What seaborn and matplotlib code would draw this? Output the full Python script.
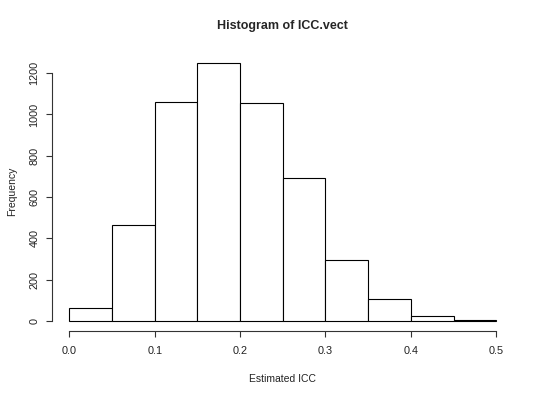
import numpy as np
import seaborn as sns
import matplotlib
matplotlib.use("Agg")
import matplotlib.pyplot as plt

# bin edges and counts
bin_edges = [0.0, 0.05, 0.1, 0.15, 0.2, 0.25, 0.3, 0.35, 0.4, 0.45, 0.5]
counts = [62, 464, 1060, 1251, 1057, 690, 295, 106, 23, 3]
x_ticks = [0.0, 0.1, 0.2, 0.3, 0.4, 0.5]
y_ticks = [0, 200, 400, 600, 800, 1000, 1200]

sns.set_style("white")
plt.rcParams['font.family'] = ['Liberation Sans', 'DejaVu Sans']

centers = [(a + b) / 2 for a, b in zip(bin_edges[:-1], bin_edges[1:])]

fig = plt.figure(figsize=(5.4, 3.97), dpi=100)
ax = fig.add_axes([0.0967, 0.1655, 0.854, 0.7028])

sns.histplot(x=centers, weights=counts, bins=bin_edges, ax=ax,
             color="white", edgecolor="black", linewidth=0.8, alpha=1)

ax.set_xlim(-0.02, 0.52)
ax.set_ylim(-0.04 * max(counts), 1.04 * max(counts))

ax.set_xticks(x_ticks)
ax.set_xticklabels(["0.0", "0.1", "0.2", "0.3", "0.4", "0.5"])
ax.set_yticks(y_ticks)
ax.set_yticklabels([str(v) for v in y_ticks], rotation=90, va="center")

for s in ["top", "right"]:
    ax.spines[s].set_visible(False)
ax.spines["left"].set_bounds(0, 1200)
ax.spines["bottom"].set_bounds(0, 0.5)
for s in ["left", "bottom"]:
    ax.spines[s].set_color("#333333")
    ax.spines[s].set_linewidth(0.8)

ax.tick_params(direction="out", length=4.3, width=0.8, color="#333333",
               labelsize=7.8, labelcolor="#222222", left=True, bottom=True)
ax.tick_params(axis="x", pad=6.5)
ax.tick_params(axis="y", pad=5)

ax.set_xlabel("Estimated ICC", fontsize=7.5, color="#222222")
ax.set_ylabel("Frequency", fontsize=7.5, color="#222222")
ax.xaxis.set_label_coords(0.5, -0.152)
ax.yaxis.set_label_coords(-0.076, 0.5)
ax.set_title("Histogram of ICC.vect", fontsize=9, fontweight="bold",
             y=1.094, va="center", pad=0)

fig.savefig("out.png", dpi=100)
